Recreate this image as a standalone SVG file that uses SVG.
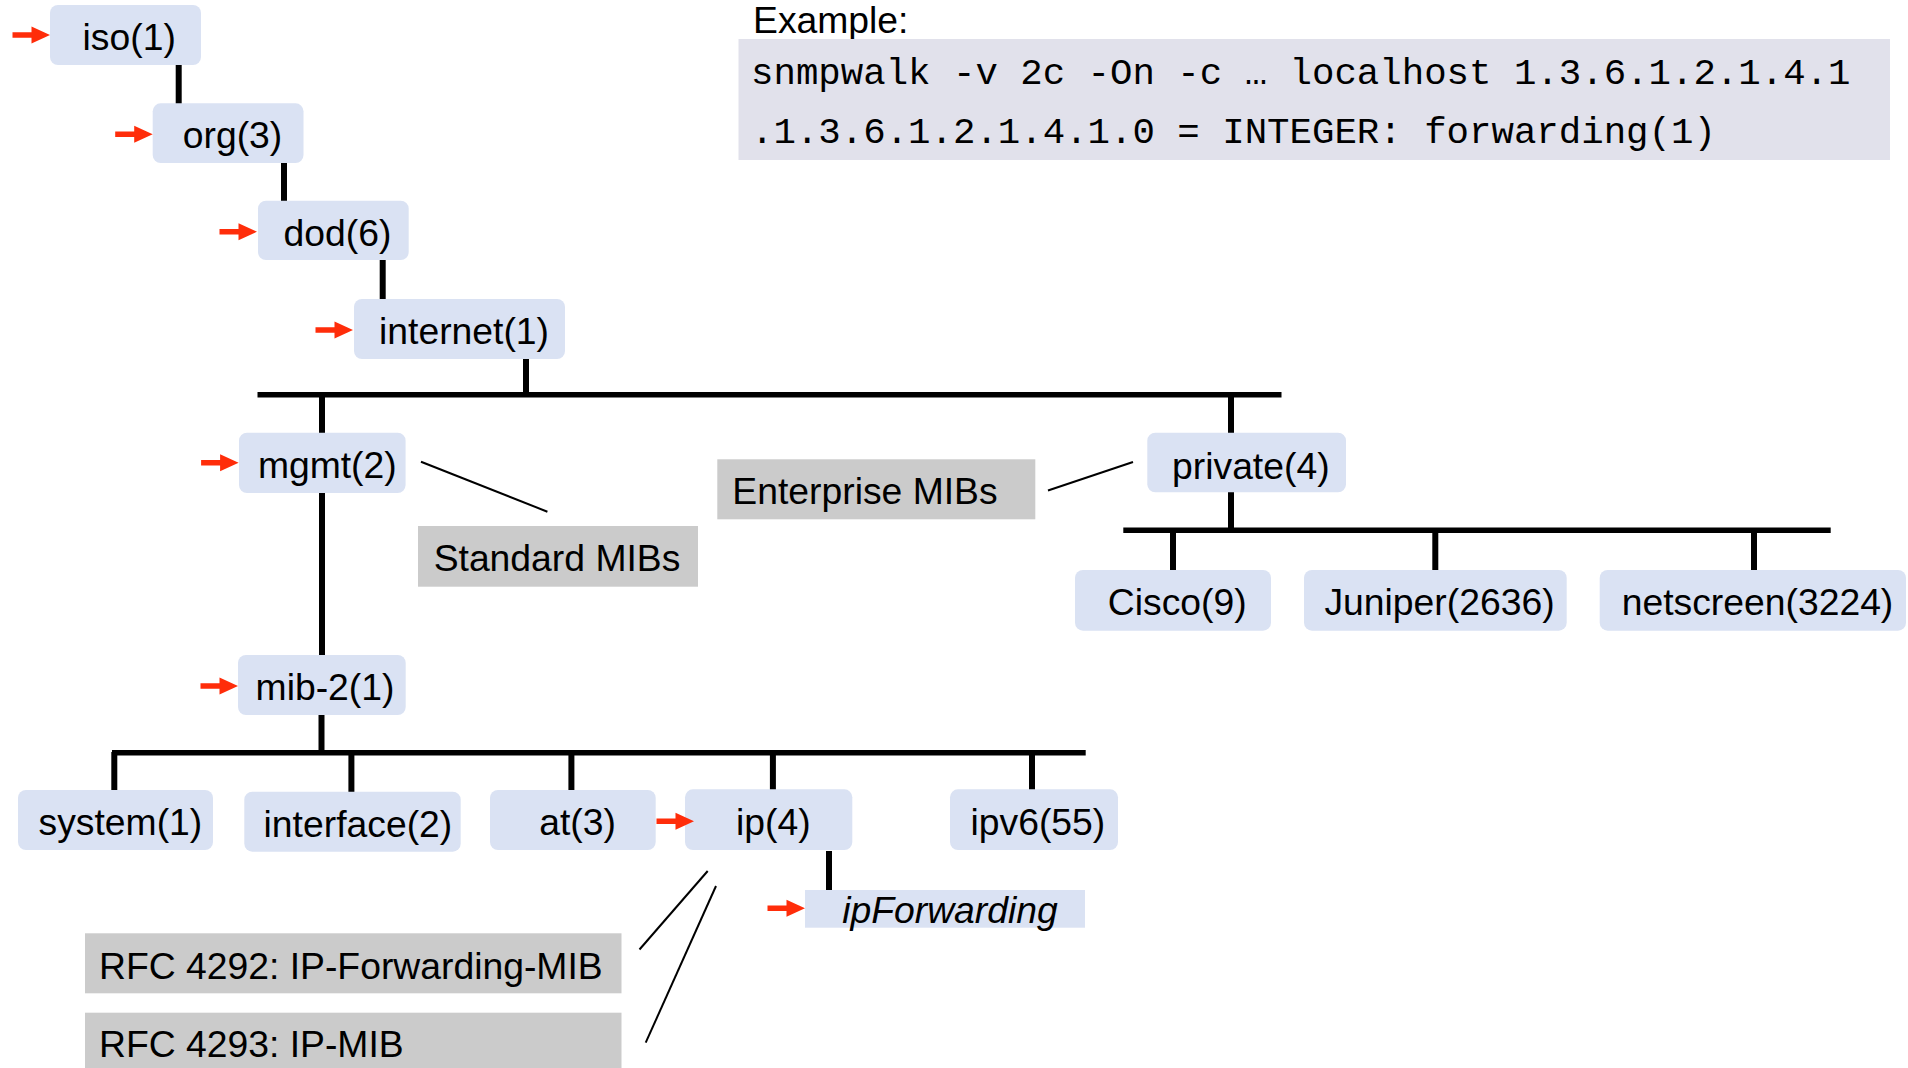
<svg xmlns="http://www.w3.org/2000/svg" xmlns:xlink="http://www.w3.org/1999/xlink" width="1908" height="1068" viewBox="0 0 1908 1068">
  <style>
    .node rect { fill: #dae2f3; }
    .note rect { fill: #cbcbcb; }
    .txt { font-family: "Liberation Sans", Arial, Helvetica, sans-serif; font-size: 37.3px; fill: #000; }
    .mid { text-anchor: middle; }
    .mono { font-family: "Liberation Mono", "Courier New", monospace; font-size: 37.4px; fill: #000; }
    .wire { stroke: #000; stroke-width: 6; fill: none; }
    .bar { stroke: #000; stroke-width: 5.5; fill: none; }
    .lead { stroke: #000; stroke-width: 2; fill: none; }
  </style>
  <defs>
    <!-- red pointer, tip at the origin -->
    <path id="ptr" d="M-37.5,-2.8 H-18.5 V-8.5 L0,0 L-18.5,8.5 V2.8 H-37.5 Z" fill="#ff2d0a"/>
  </defs>

  <!-- example command box -->
  <g id="example">
    <text class="txt" x="753" y="32.7">Example:</text>
    <rect x="738.5" y="39" width="1151.5" height="121" fill="#e1e1eb"/>
    <text class="mono" x="751" y="84">snmpwalk -v 2c -On -c … localhost 1.3.6.1.2.1.4.1</text>
    <text class="mono" x="751" y="143">.1.3.6.1.2.1.4.1.0 = INTEGER: forwarding(1)</text>
  </g>

  <!-- tree connectors -->
  <g id="connectors">
    <line class="wire" x1="178.7" y1="64" x2="178.7" y2="104"/>
    <line class="wire" x1="284" y1="162" x2="284" y2="201"/>
    <line class="wire" x1="382.7" y1="259" x2="382.7" y2="300"/>
    <line class="wire" x1="526" y1="358" x2="526" y2="395"/>
    <line class="bar" x1="257.5" y1="394.8" x2="1281.5" y2="394.8"/>
    <line class="wire" x1="322" y1="394" x2="322" y2="434"/>
    <line class="wire" x1="1231" y1="394" x2="1231" y2="434"/>
    <line class="wire" x1="322" y1="492" x2="322" y2="656"/>
    <line class="wire" x1="1231" y1="491" x2="1231" y2="531"/>
    <line class="bar" x1="1123.3" y1="530.3" x2="1830.7" y2="530.3"/>
    <line class="wire" x1="1173" y1="530" x2="1173" y2="571"/>
    <line class="wire" x1="1435.3" y1="530" x2="1435.3" y2="571"/>
    <line class="wire" x1="1754" y1="530" x2="1754" y2="571"/>
    <line class="wire" x1="321.5" y1="714" x2="321.5" y2="753"/>
    <line class="bar" x1="112" y1="752.7" x2="1085.7" y2="752.7"/>
    <line class="wire" x1="114.3" y1="752" x2="114.3" y2="791"/>
    <line class="wire" x1="351.4" y1="752" x2="351.4" y2="792"/>
    <line class="wire" x1="571.4" y1="752" x2="571.4" y2="791"/>
    <line class="wire" x1="772.9" y1="752" x2="772.9" y2="790"/>
    <line class="wire" x1="1032" y1="752" x2="1032" y2="791"/>
    <line class="wire" x1="829" y1="851" x2="829" y2="891"/>
    <!-- thin leaders to the MIB notes -->
    <line class="lead" x1="421" y1="461.7" x2="547.4" y2="511.7"/>
    <line class="lead" x1="1048" y1="490.5" x2="1133" y2="462"/>
    <line class="lead" x1="707.7" y1="871" x2="639.5" y2="949.5"/>
    <line class="lead" x1="716" y1="886" x2="645.7" y2="1042.7"/>
  </g>

  <!-- OID nodes -->
  <g id="iso" class="node"><rect x="50" y="5" width="151" height="60" rx="8"/><text class="txt mid" x="129.2" y="50">iso(1)</text></g>
  <g id="org" class="node"><rect x="152.7" y="103.3" width="150.8" height="59.7" rx="8"/><text class="txt mid" x="232.5" y="148.3">org(3)</text></g>
  <g id="dod" class="node"><rect x="258" y="200.7" width="150.7" height="59.3" rx="8"/><text class="txt mid" x="337.5" y="245.7">dod(6)</text></g>
  <g id="internet" class="node"><rect x="354" y="299" width="211" height="60" rx="8"/><text class="txt mid" x="464" y="344">internet(1)</text></g>
  <g id="mgmt" class="node"><rect x="239" y="432.7" width="166.6" height="60.3" rx="8"/><text class="txt mid" x="327.3" y="477.5">mgmt(2)</text></g>
  <g id="private" class="node"><rect x="1147.3" y="432.7" width="198.7" height="59.6" rx="8"/><text class="txt mid" x="1250.8" y="479">private(4)</text></g>
  <g id="cisco" class="node"><rect x="1075" y="570" width="196" height="60.7" rx="8"/><text class="txt mid" x="1177.2" y="615">Cisco(9)</text></g>
  <g id="juniper" class="node"><rect x="1304" y="570" width="262.7" height="60.7" rx="8"/><text class="txt mid" x="1439.5" y="615">Juniper(2636)</text></g>
  <g id="netscreen" class="node"><rect x="1599.7" y="570" width="306.3" height="60.7" rx="8"/><text class="txt mid" x="1757.5" y="615">netscreen(3224)</text></g>
  <g id="mib-2" class="node"><rect x="238" y="655" width="167.7" height="60" rx="8"/><text class="txt mid" x="325" y="700">mib-2(1)</text></g>
  <g id="system" class="node"><rect x="18" y="790" width="195" height="60" rx="8"/><text class="txt mid" x="120.4" y="835">system(1)</text></g>
  <g id="interface" class="node"><rect x="244.3" y="791.7" width="216.4" height="60" rx="8"/><text class="txt mid" x="357.9" y="837">interface(2)</text></g>
  <g id="at" class="node"><rect x="490" y="790" width="165.7" height="60" rx="8"/><text class="txt mid" x="577.5" y="835">at(3)</text></g>
  <g id="ip" class="node"><rect x="685" y="789.3" width="167.3" height="60.7" rx="8"/><text class="txt mid" x="773.4" y="835">ip(4)</text></g>
  <g id="ipv6" class="node"><rect x="950" y="789.3" width="168" height="60.7" rx="8"/><text class="txt mid" x="1037.9" y="835">ipv6(55)</text></g>
  <g id="ipForwarding" class="node"><rect x="805" y="890" width="280" height="37.7"/><text class="txt mid" x="950" y="923" font-style="italic">ipForwarding</text></g>

  <!-- MIB notes -->
  <g id="standard-mibs" class="note"><rect x="418" y="526" width="280" height="60.7"/><text class="txt mid" x="557" y="571">Standard MIBs</text></g>
  <g id="enterprise-mibs" class="note"><rect x="717.3" y="459.3" width="318" height="60"/><text class="txt mid" x="865" y="504">Enterprise MIBs</text></g>
  <g id="rfc4292" class="note"><rect x="85" y="933.3" width="536.5" height="60"/><text class="txt" x="99" y="979">RFC 4292: IP-Forwarding-MIB</text></g>
  <g id="rfc4293" class="note"><rect x="85" y="1012.7" width="536.5" height="55.3"/><text class="txt" x="99" y="1057">RFC 4293: IP-MIB</text></g>

  <!-- red pointers along the walked OID path -->
  <g id="pointers">
    <use xlink:href="#ptr" x="50" y="35"/>
    <use xlink:href="#ptr" x="152.7" y="134.3"/>
    <use xlink:href="#ptr" x="257" y="231.7"/>
    <use xlink:href="#ptr" x="353" y="330"/>
    <use xlink:href="#ptr" x="238.6" y="462.7"/>
    <use xlink:href="#ptr" x="238" y="686"/>
    <use xlink:href="#ptr" x="694" y="821.3"/>
    <use xlink:href="#ptr" x="805" y="908.3"/>
  </g>
</svg>
